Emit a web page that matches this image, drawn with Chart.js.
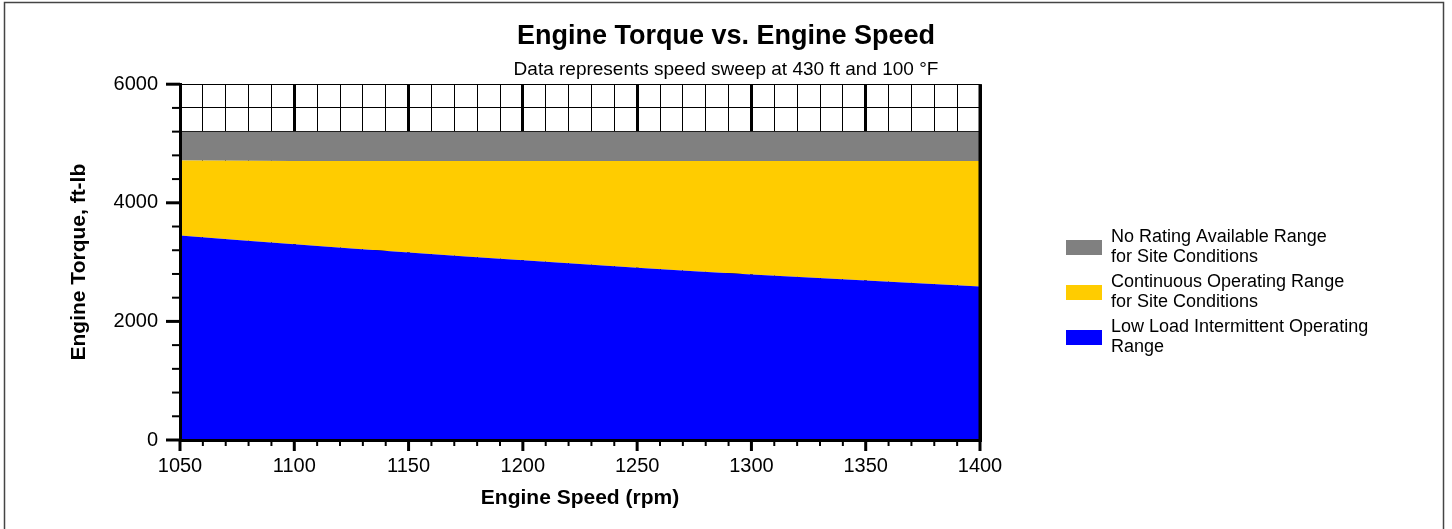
<!DOCTYPE html>
<html>
<head>
<meta charset="utf-8">
<script src="https://cdn.jsdelivr.net/npm/chart.js@4/dist/chart.umd.min.js"></script>
<style>
  html, body { margin: 0; padding: 0; background: #fff; }
  canvas { display: block; }
</style>
</head>
<body>
<canvas id="torque" width="1452" height="529"></canvas>
<script>
// engine speed sweep, rpm
const speeds = [1050, 1100, 1150, 1200, 1250, 1300, 1350, 1400];
// upper edge of each band, ft-lb
const lowLoadTorque = [3450, 3300, 3160, 3030, 2905, 2790, 2690, 2590];
const continuousTorque = [4715, 4705, 4705, 4705, 4705, 4705, 4705, 4705];
const noRatingTorque = [5200, 5200, 5200, 5200, 5200, 5200, 5200, 5200];

const lowLoadName = ['Low Load Intermittent Operating', 'Range'];
const continuousName = ['Continuous Operating Range', 'for Site Conditions'];
const noRatingName = ['No Rating Available Range', 'for Site Conditions'];

const FONT = '"Liberation Sans", Arial, sans-serif';
Chart.defaults.font.family = FONT;
Chart.defaults.color = '#000';

function points(values) {
    return speeds.map((s, i) => ({x: s, y: values[i]}));
}

// frame round the whole picture
const frame = {
    id: 'frame',
    beforeDraw(chart) {
        const ctx = chart.ctx;
        ctx.save();
        ctx.fillStyle = '#fff';
        ctx.fillRect(0, 0, chart.width, chart.height);
        ctx.strokeStyle = '#444';
        ctx.lineWidth = 1.5;
        ctx.strokeRect(4.5, 2.5, 1439, 560);
        ctx.restore();
    }
};

// long ticks on labelled values, short ones between, plus right edge of plot
const tickMarks = {
    id: 'tickMarks',
    afterDraw(chart) {
        const {ctx, chartArea, scales} = chart;
        ctx.save();
        ctx.strokeStyle = '#000';
        scales.x.ticks.forEach(t => {
            const major = t.value % 50 === 0;
            const px = scales.x.getPixelForValue(t.value);
            ctx.lineWidth = major ? 3 : 2;
            ctx.beginPath();
            ctx.moveTo(px, chartArea.bottom);
            ctx.lineTo(px, chartArea.bottom + (major ? 11 : 6));
            ctx.stroke();
        });
        scales.y.ticks.forEach(t => {
            const major = t.value % 2000 === 0;
            const py = scales.y.getPixelForValue(t.value);
            ctx.lineWidth = major ? 3 : 2;
            ctx.beginPath();
            ctx.moveTo(chartArea.left, py);
            ctx.lineTo(chartArea.left - (major ? 14 : 8), py);
            ctx.stroke();
        });
        ctx.lineWidth = 3;
        ctx.beginPath();
        ctx.moveTo(chartArea.right, chartArea.top);
        ctx.lineTo(chartArea.right, chartArea.bottom);
        ctx.stroke();
        ctx.restore();
    }
};

// legend with two-line entries, to the right of the plot
const sideLegend = {
    id: 'sideLegend',
    afterDraw(chart) {
        const {ctx, chartArea} = chart;
        const x0 = chartArea.right + 86;
        let y = 237;
        ctx.save();
        ctx.font = '18px ' + FONT;
        ctx.textBaseline = 'middle';
        chart.data.datasets.slice().reverse().forEach(ds => {
            ctx.fillStyle = ds.backgroundColor;
            ctx.fillRect(x0, y + 3, 36, 15);
            ctx.fillStyle = '#000';
            ds.legendLines.forEach((line, i) => ctx.fillText(line, x0 + 45, y + i * 20.5));
            y += 45;
        });
        ctx.restore();
    }
};

new Chart(document.getElementById('torque'), {
    type: 'line',
    data: {
        datasets: [{
            label: lowLoadName.join(' '),
            legendLines: lowLoadName,
            data: points(lowLoadTorque),
            backgroundColor: '#0000ff',
            borderWidth: 0,
            pointRadius: 0,
            cubicInterpolationMode: 'monotone',
            fill: 'origin',
        }, {
            label: continuousName.join(' '),
            legendLines: continuousName,
            data: points(continuousTorque),
            backgroundColor: '#ffcc00',
            borderWidth: 0,
            pointRadius: 0,
            fill: '-1',
        }, {
            label: noRatingName.join(' '),
            legendLines: noRatingName,
            data: points(noRatingTorque),
            backgroundColor: '#808080',
            borderWidth: 0,
            pointRadius: 0,
            fill: '-1',
        }]
    },
    options: {
        responsive: false,
        animation: false,
        layout: {
            padding: 0
        },
        plugins: {
            legend: {display: false},
            tooltip: {enabled: false},
            title: {
                display: true,
                text: 'Engine Torque vs. Engine Speed',
                font: {size: 27, weight: 'bold'},
                padding: {top: 20, bottom: 0},
            },
            subtitle: {
                display: true,
                text: 'Data represents speed sweep at 430 ft and 100 °F',
                font: {size: 19},
                padding: {top: 6, bottom: 3},
            },
        },
        scales: {
            x: {
                type: 'linear',
                min: 1050,
                max: 1400,
                afterFit(scale) { scale.height = 89; },
                grid: {
                    color: '#000',
                    lineWidth: c => (c.tick && c.tick.value % 50 === 0) ? 3 : 1,
                    drawTicks: false,
                },
                border: {display: true, color: '#000', width: 3, z: 1},
                ticks: {
                    stepSize: 10,
                    autoSkip: false,
                    maxRotation: 0,
                    padding: 14,
                    font: {size: 20},
                    callback: v => v % 50 === 0 ? String(v) : '',
                },
                title: {
                    display: true,
                    text: 'Engine Speed (rpm)',
                    font: {size: 21, weight: 'bold'},
                    padding: {top: 0, bottom: 18},
                },
            },
            y: {
                min: 0,
                max: 6000,
                afterFit(scale) { scale.width = 180; },
                grid: {
                    color: '#000',
                    lineWidth: 1,
                    drawTicks: false,
                },
                border: {display: true, color: '#000', width: 3, z: 1},
                ticks: {
                    stepSize: 400,
                    autoSkip: false,
                    padding: 22,
                    font: {size: 20},
                    callback: v => v % 2000 === 0 ? String(v) : '',
                },
                title: {
                    display: true,
                    text: 'Engine Torque, ft-lb',
                    font: {size: 21, weight: 'bold'},
                    padding: {top: 67, bottom: 0},
                },
            },
            // empty axis that keeps room for the legend on the right
            side: {
                position: 'right',
                afterFit(scale) { scale.width = 472; },
                grid: {display: false},
                border: {display: false},
                ticks: {display: false},
            }
        }
    },
    plugins: [frame, tickMarks, sideLegend],
});
</script>
</body>
</html>
